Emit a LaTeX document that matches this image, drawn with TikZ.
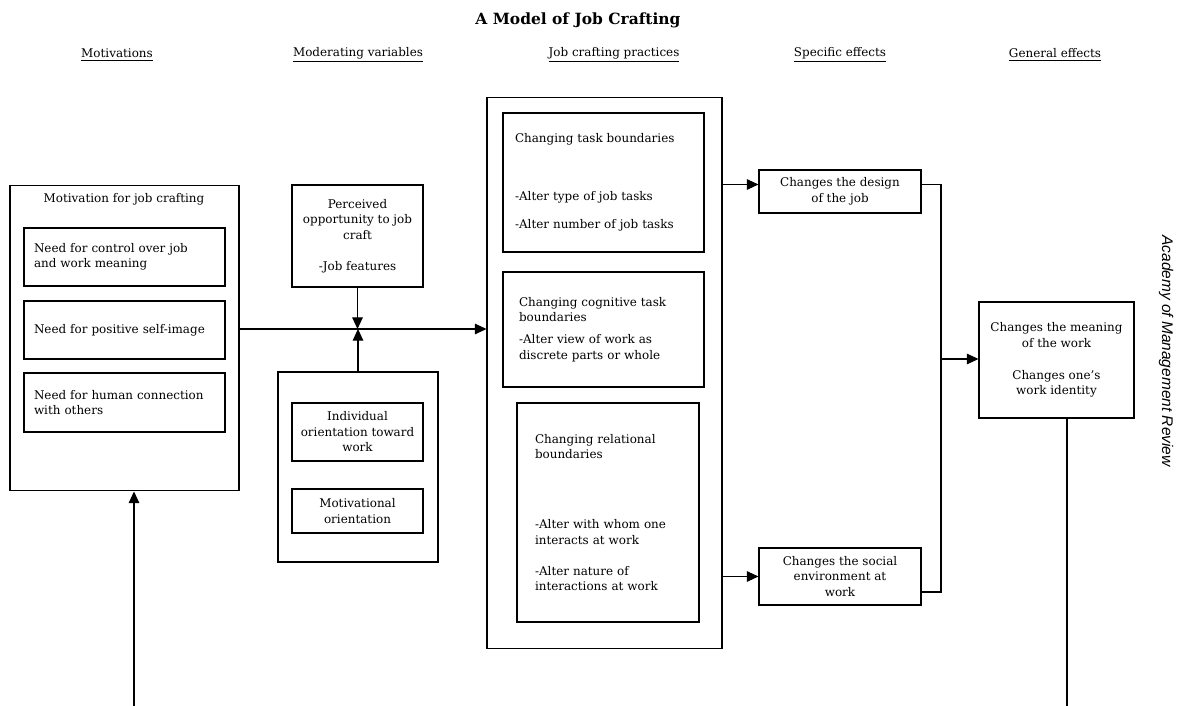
\documentclass[tikz,border=0pt]{standalone}
\usepackage{fontspec}
\setmainfont{DejaVu Serif}
\newfontfamily\sidefont{Liberation Sans}
\usetikzlibrary{arrows.meta,positioning,calc}

\newcommand{\bodyfont}{\fontsize{6.8}{8.8}\selectfont}

\begin{document}
\begin{tikzpicture}[
    x=0.02cm, y=-0.02cm,
    line width=0.6pt,
    box/.style={rectangle, draw, align=center, font=\bodyfont, inner sep=2pt},
    lbox/.style={rectangle, draw, align=left, font=\bodyfont, inner ysep=2pt},
    frame/.style={rectangle, draw, inner sep=0pt},
    hdr/.style={font=\fontsize{6.8}{8}\selectfont},
    arr/.style={-{Triangle[length=6.6pt, width=6pt]}}
]
    \useasboundingbox (0,0) rectangle (1178,706);

    % title and column heads
    \node[font=\bfseries\fontsize{8.8}{10}\selectfont] (title) at (578,20) {A Model of Job Crafting};
    \node[hdr] (hmot) at (117,55) {\underline{Motivations}};
    \node[hdr] (hmod) at (358,55) {\underline{Moderating variables}};
    \node[hdr] (hprac) at (614,55) {\underline{Job crafting practices}};
    \node[hdr] (hspec) at (840,55) {\underline{Specific effects}};
    \node[hdr] (hgen) at (1055,55) {\underline{General effects}};

    % motivations
    \node[frame, minimum width=4.58cm, minimum height=6.12cm] (mot) at (124.5,338) {};
    \node[font=\bodyfont] (motT) at (124,199) {Motivation for job crafting};
    \node[lbox, minimum width=4.02cm, minimum height=1.16cm, text width=3.62cm, inner xsep=0.2cm] (need1) at (124.5,257) {Need for control over job\\and work meaning};
    \node[lbox, minimum width=4.02cm, minimum height=1.16cm, text width=3.62cm, inner xsep=0.2cm] (need2) at (124.5,330) {Need for positive self-image};
    \node[lbox, minimum width=4.02cm, minimum height=1.18cm, text width=3.62cm, inner xsep=0.2cm] (need3) at (124.5,402.5) {Need for human connection\\with others};

    % moderating variables
    \node[box, minimum width=2.62cm, minimum height=2.04cm] (perc) at (357.5,236) {Perceived\\opportunity to job\\craft\\[8.8pt]-Job features};
    \node[frame, minimum width=3.2cm, minimum height=3.8cm] (orient) at (358,467) {};
    \node[box, minimum width=2.62cm, minimum height=1.16cm] (indiv) at (357.5,432) {Individual\\orientation toward\\work};
    \node[box, minimum width=2.62cm, minimum height=0.88cm] (motiv) at (357.5,511) {Motivational\\orientation};

    % job crafting practices
    \node[frame, minimum width=4.7cm, minimum height=11.04cm] (prac) at (604.5,373) {};
    \node[lbox, minimum width=4.02cm, minimum height=2.78cm, text width=3.54cm, inner xsep=0.24cm] (task) at (603.5,182.5) {Changing task boundaries\\[24pt]-Alter type of job tasks\\[7.6pt]-Alter number of job tasks};
    \node[lbox, minimum width=4.02cm, minimum height=2.3cm, text width=3.38cm, inner xsep=0.32cm] (cog) at (603.5,329.5) {Changing cognitive task\\boundaries\\[3.7pt]-Alter view of work as\\discrete parts or whole};
    \node[lbox, minimum width=3.64cm, minimum height=4.38cm, text width=2.92cm, inner xsep=0.36cm] (rel) at (608,512.5) {Changing relational\\boundaries\\[31pt]-Alter with whom one\\interacts at work\\[8.8pt]-Alter nature of\\interactions at work};

    % effects
    \node[box, minimum width=3.24cm, minimum height=0.86cm] (design) at (840,191.5) {Changes the design\\of the job};
    \node[box, minimum width=3.24cm, minimum height=1.14cm] (social) at (840,576.5) {Changes the social\\environment at\\work};
    \node[box, minimum width=3.1cm, minimum height=2.32cm] (general) at (1056.5,360) {Changes the meaning\\of the work\\[9.3pt]Changes one's\\work identity};

    \node[rotate=-90, font=\sidefont\itshape\fontsize{8.8}{10}\selectfont] (journal) at (1166,351) {Academy of Management Review};

    % connectors
    \coordinate (lvl) at (0,329);
    \draw[arr] (mot.east |- lvl) -- (prac.west |- lvl);
    \draw[arr] (perc.south) -- (perc.south |- lvl);
    \draw[arr] (orient.north) -- (orient.north |- lvl);

    \coordinate (dsgin) at ([yshift=0.14cm]design.west);
    \draw[arr] (prac.east |- dsgin) -- (dsgin);
    \draw[arr] (prac.east |- social.west) -- (social.west);

    \coordinate (fork) at (941,359);
    \draw ([yshift=0.14cm]design.east) -| (fork) |- ([yshift=-0.31cm]social.east);
    \draw[arr] (fork) -- (fork -| general.west);

    \coordinate (genend) at (1067,706);
    \draw (genend |- general.south) -- (genend);
    \coordinate (motend) at (134,706);
    \draw[arr] (motend) -- (motend |- mot.south);
\end{tikzpicture}
\end{document}
